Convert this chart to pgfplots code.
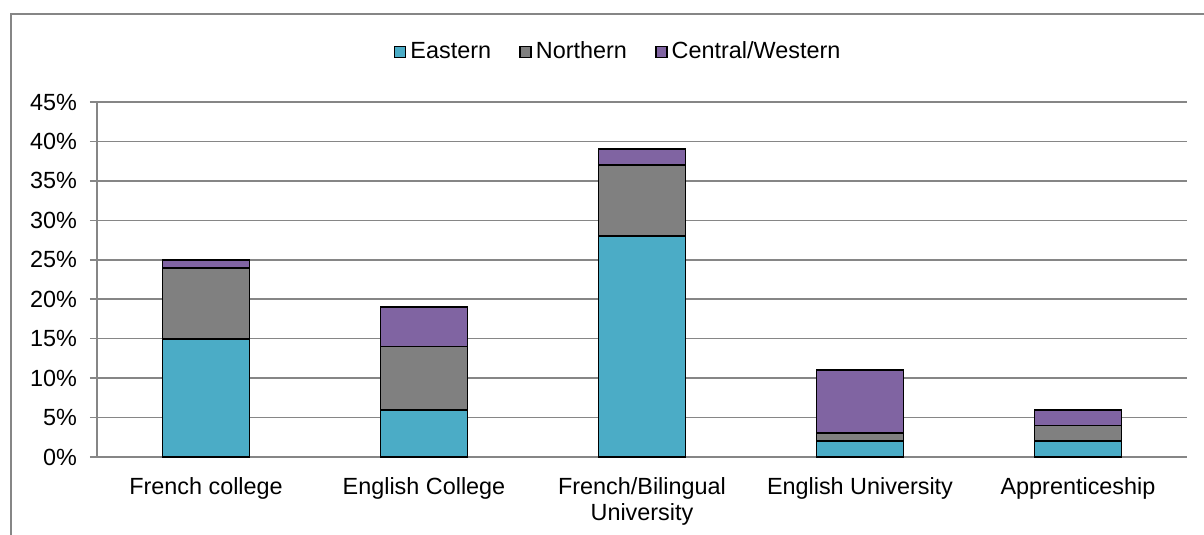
\documentclass[border=0pt]{standalone}
\usepackage{fontspec}
\setmainfont{Liberation Sans}
\usepackage{pgfplots}
\pgfplotsset{compat=1.18}

\definecolor{eastern}{HTML}{4BACC6}
\definecolor{northern}{HTML}{808080}
\definecolor{central}{HTML}{8064A2}
\definecolor{gridgray}{HTML}{868686}

\begin{document}
\begin{tikzpicture}
% picture is 602pt x 267.5pt, axis box lower left at pixel (97,457)
\path[use as bounding box] (-48.5pt,-39pt) rectangle (553.5pt,228.5pt);
\draw[gridgray, line width=0.75pt] (-43pt,-60pt) -- (-43pt,221.5pt) -- (620pt,221.5pt);

\begin{axis}[
    at={(0pt,0pt)},
    anchor=south west,
    scale only axis,
    width=545pt,
    height=177.5pt,
    ybar stacked,
    bar width=43.5pt,
    xmin=-0.5, xmax=4.5,
    ymin=0, ymax=45,
    axis lines*=left,
    axis line style={gridgray, line width=0.75pt},
    xtick={0,1,2,3,4},
    xticklabels={French college, English College, French/Bilingual\\University, English University, Apprenticeship},
    xticklabel style={align=center, yshift=-3pt, font=\fontsize{11.7}{13.2}\selectfont},
    major x tick style={draw=none},
    extra x ticks={-0.5,0.5,1.5,2.5,3.5,4.5},
    extra x tick labels={},
    extra x tick style={tick align=outside, major tick length=3pt, tick style={gridgray, line width=0.75pt}, grid=none},
    ytick={0,5,...,45},
    yticklabel={\pgfmathprintnumber{\tick}\%},
    yticklabel style={xshift=-3pt, font=\fontsize{11.7}{13}\selectfont},
    /pgf/number format/assume math mode=true,
    tick align=outside,
    major tick length=3.5pt,
    ytick style={gridgray, line width=0.75pt},
    ymajorgrids,
    grid style={gridgray, line width=0.75pt},
    legend style={
        at={(261pt,202.5pt)}, anchor=center,
        draw=none, fill=none,
        legend columns=-1,
        font=\fontsize{11.7}{13}\selectfont,
        /tikz/every even column/.append style={column sep=12pt},
    },
    legend image code/.code={
        \draw[#1, line width=0.9pt] (0pt,-2.75pt) rectangle (5.5pt,2.75pt);
    },
    clip=false,
]
\addplot[fill=eastern, draw=black, line width=0.9pt] coordinates {
    (0,15) (1,6) (2,28) (3,2) (4,2)
};
\addplot[fill=northern, draw=black, line width=0.9pt] coordinates {
    (0,9) (1,8) (2,9) (3,1) (4,2)
};
\addplot[fill=central, draw=black, line width=0.9pt] coordinates {
    (0,1) (1,5) (2,2) (3,8) (4,2)
};
\legend{Eastern, Northern, Central/Western}
\end{axis}
\end{tikzpicture}
\end{document}
